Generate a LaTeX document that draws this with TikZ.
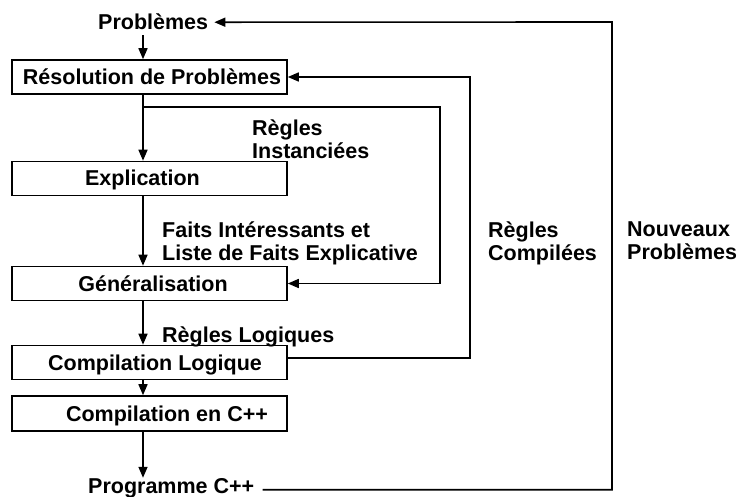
\documentclass[tikz,border=0pt]{standalone}
\usepackage{fontspec}
\setmainfont{Liberation Sans}
\usetikzlibrary{arrows.meta,calc}
\begin{document}
\begin{tikzpicture}[x=1pt,y=-1pt,
  every node/.style={font=\bfseries\fontsize{21.5}{23}\selectfont, inner sep=0pt},
  box/.style={draw, line width=1.6pt, minimum width=275pt, minimum height=34pt, text height=15pt, text depth=0pt},
  lbl/.style={anchor=north west, align=left},
  arr/.style={line width=1.6pt, -{Triangle[length=11pt,width=9pt]}},
  ln/.style={line width=1.6pt}]
\useasboundingbox (0,0) rectangle (739,497);
\fill[white] (0,0) rectangle (739,497);

% main column
\coordinate (m) at (143,0);
\node[anchor=base west] (prob) at (98,30) {Problèmes};
\node[box] (res) at (149.5,77) {\hspace*{5pt}Résolution de Problèmes};
\node[box] (expl) at (149.5,178.5) {\hspace*{-14pt}Explication};
\node[box] (gen) at (149.5,283.5) {\hspace*{7pt}Généralisation};
\node[box] (cl) at (149.5,362.5) {\hspace*{11pt}Compilation Logique};
\node[box, minimum height=35pt] (cc) at (149.5,413.5) {\hspace*{35pt}Compilation en C++};
\node[anchor=base west] (progc) at (88,493) {Programme C++};

% labels
\node[lbl] (l1) at (252,119.5) {Règles\\Instanciées};
\node[lbl] (l2) at (162,221.5) {Faits Intéressants et\\Liste de Faits Explicative};
\node[lbl] (l3) at (162,326.5) {Règles Logiques};
\node[lbl] (l4) at (488,221.5) {Règles\\Compilées};
\node[lbl] (l5) at (627,221.5) {Nouveaux\\Problèmes};

% vertical flow
\draw[arr, shorten <=5pt] (prob.south -| m) -- (res.north -| m);
\draw[arr] (res.south -| m) -- (expl.north -| m);
\draw[arr] (expl.south -| m) -- (gen.north -| m);
\draw[arr] (gen.south -| m) -- (cl.north -| m);
\draw[arr] (cl.south -| m) -- (cc.north -| m);
\draw[arr] (cc.south -| m) -- (progc.north -| m);

% inner loop: Règles instanciées
\coordinate (j1) at (143,107);
\coordinate (c1) at (440,107);
\draw[arr] (j1) -- (c1) |- (gen.east);

% compiled rules loop
\coordinate (c2) at (470,77);
\draw[arr] ([yshift=4.5pt]cl.east) -| (c2) -- (res.east);

% new problems loop
\coordinate (c3) at (612,22);
\draw[arr, shorten <=8pt, shorten >=6pt] ([yshift=-2pt]progc.east) -| (c3) -- (prob.east);
\end{tikzpicture}
\end{document}
